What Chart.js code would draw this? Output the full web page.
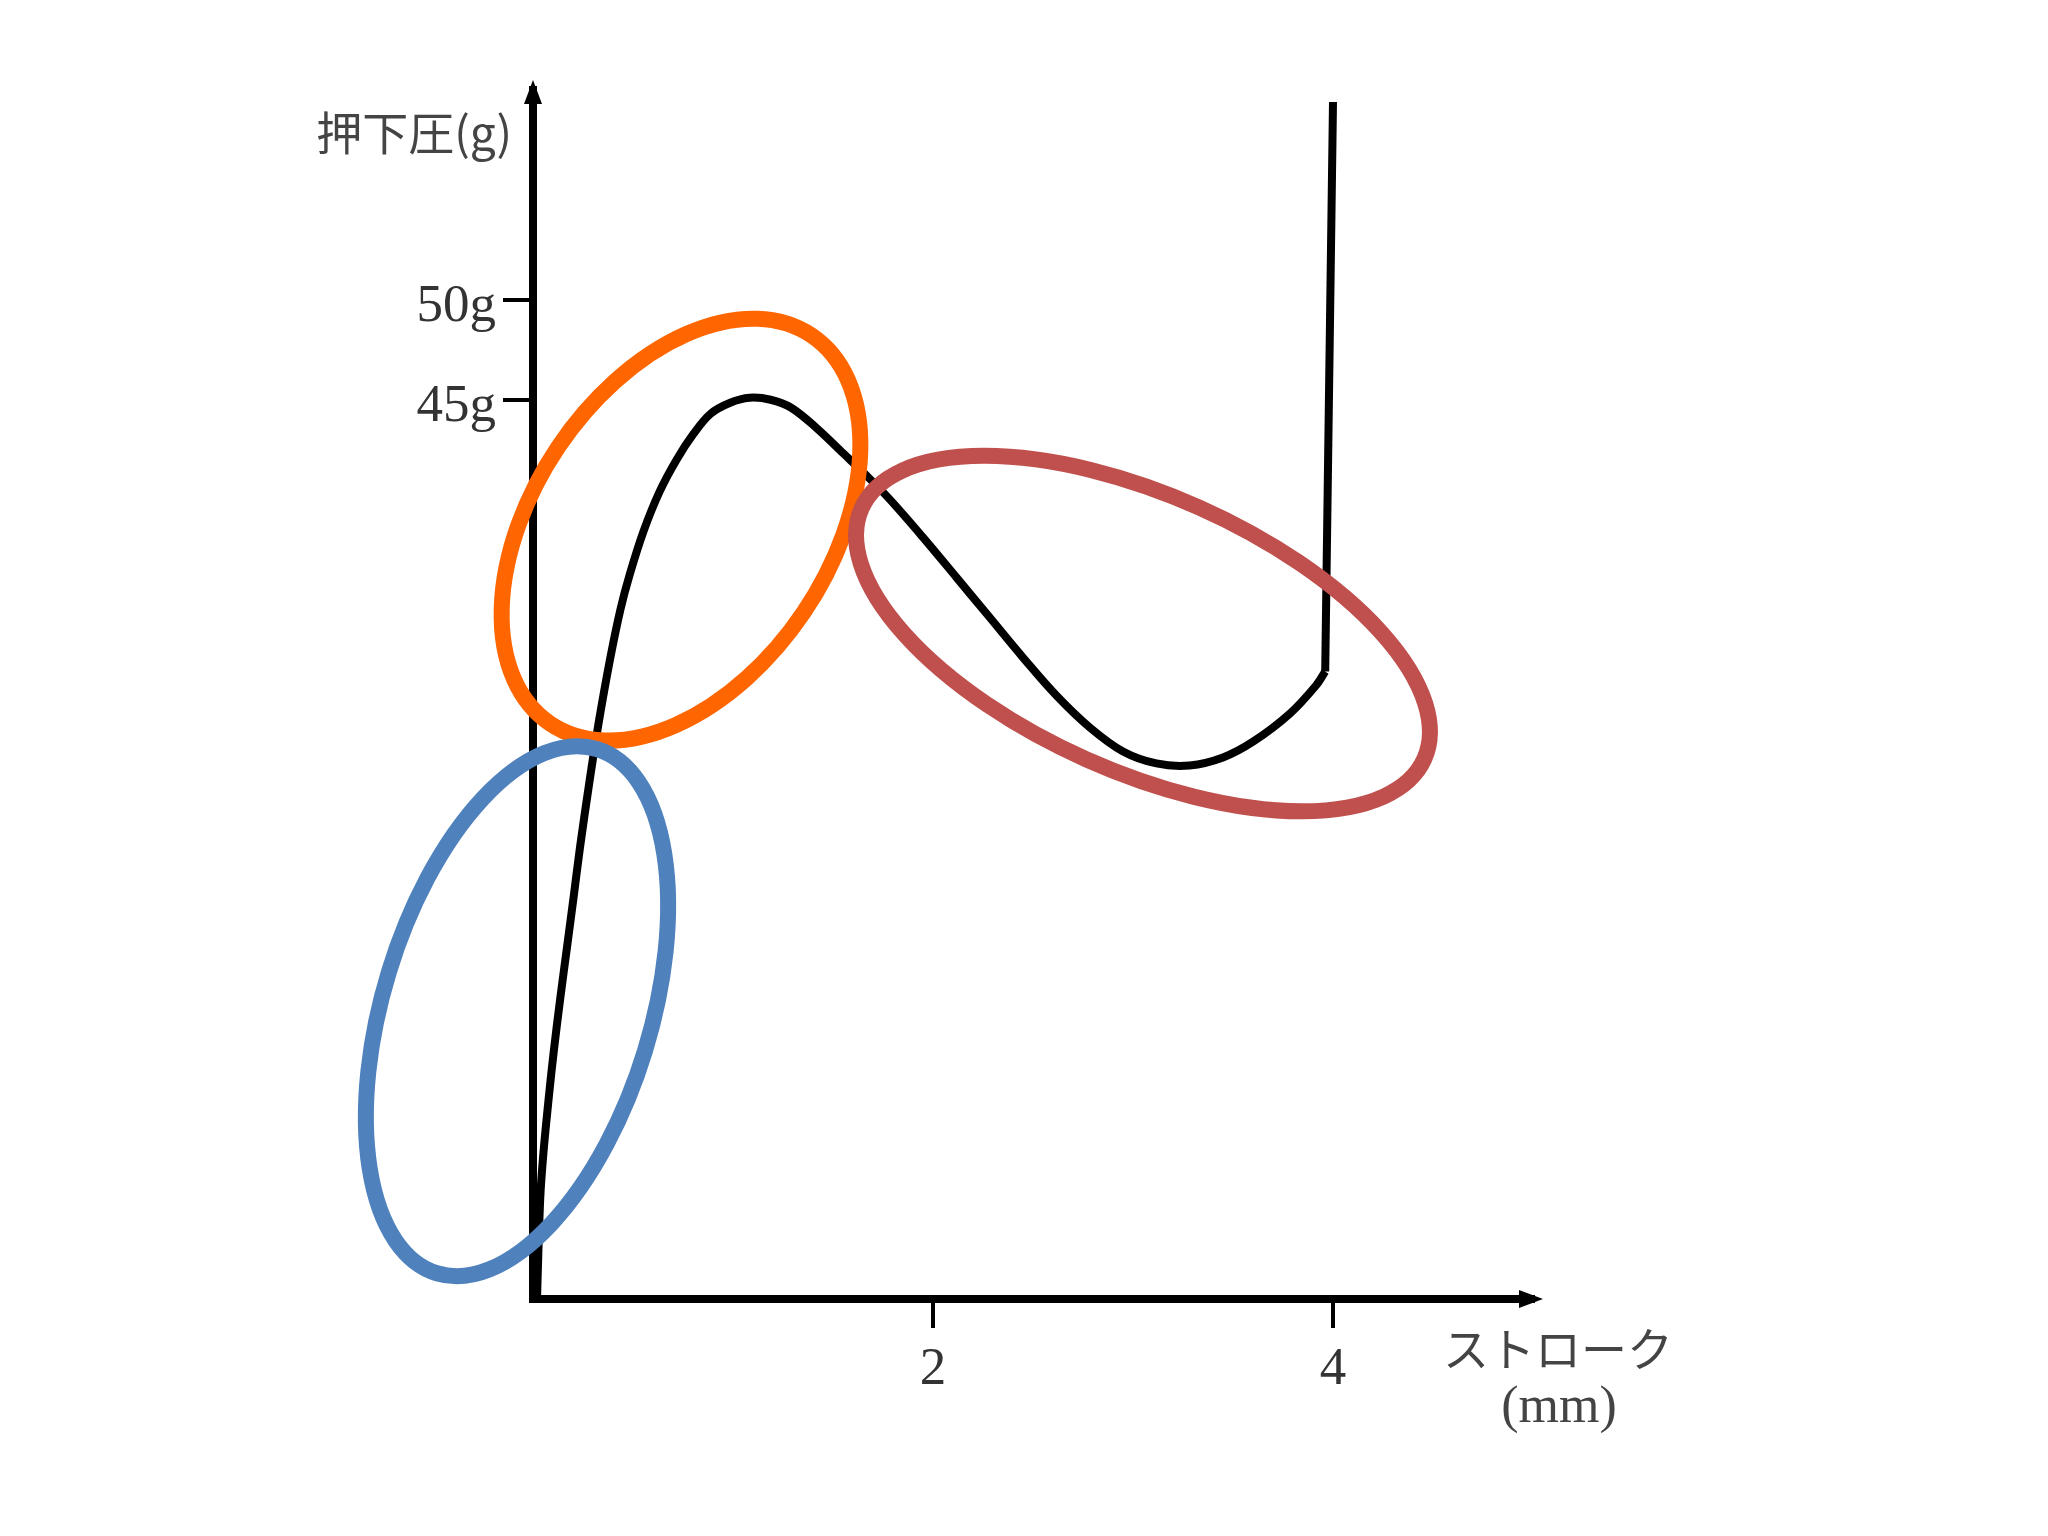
<!DOCTYPE html>
<html>
<head>
<meta charset="utf-8">
<script src="https://cdn.jsdelivr.net/npm/chart.js@4"></script>
<style>
  body { margin: 0; background: #fff; }
  #wrap { width: 2048px; height: 1536px; }
</style>
</head>
<body>
<div id="wrap"><canvas id="strokeChart" width="2048" height="1536"></canvas></div>
<script>
// stroke (mm) vs. key press force (g)
const strokeMm = [0.020, 0.036, 0.052, 0.078, 0.105, 0.137, 0.170, 0.203, 0.235, 0.281, 0.326, 0.385, 0.437,
    0.482, 0.552, 0.633, 0.718, 0.803, 0.888, 0.986, 1.083, 1.188,
    1.291, 1.416, 1.553, 1.668, 1.785, 1.951, 2.118, 2.284, 2.450, 2.617, 2.784, 2.950, 3.117, 3.283,
    3.450, 3.602, 3.785, 3.915, 3.961];
const pressureG = [0.0, 5.0, 7.3, 10.0, 12.5, 15.1, 17.6, 20.1, 22.6, 25.8, 28.7, 32.0, 34.5,
    36.2, 38.4, 40.4, 42.0, 43.3, 44.3, 44.85, 45.1, 45.0,
    44.6, 43.6, 42.3, 41.2, 40.0, 38.1, 36.1, 34.1, 32.1, 30.2, 28.6, 27.4, 26.8, 26.7,
    27.1, 27.9, 29.3, 30.7, 31.4];
// bottoming out: straight rise at the end of travel
const bottomMm = [3.961, 4.00];
const bottomG = [31.4, 59.9];
const xTicks = [2, 4];
const yTicks = [45, 50];

// highlight rings: centre in data units, radii / rotation in px
const rings = [
    {x: 0.74, y: 38.5, rx: 234, ry: 148, rot: -56, color: '#FF6600'},
    {x: -0.08, y: 14.4, rx: 274, ry: 134, rot: -73, color: '#4F81BD'},
    {x: 3.05, y: 33.3, rx: 308, ry: 138, rot: 24, color: '#C0504D'}
];

const extras = {
    id: 'extras',
    afterDraw(chart) {
        const {ctx, chartArea: a, scales} = chart;
        ctx.save();
        // arrow heads
        ctx.fillStyle = '#000';
        ctx.beginPath();
        ctx.moveTo(a.left, a.top - 10);
        ctx.lineTo(a.left - 9, a.top + 14);
        ctx.lineTo(a.left + 9, a.top + 14);
        ctx.fill();
        ctx.beginPath();
        ctx.moveTo(a.right + 10, a.bottom);
        ctx.lineTo(a.right - 14, a.bottom - 9);
        ctx.lineTo(a.right - 14, a.bottom + 9);
        ctx.fill();

        // axis titles
        ctx.fillStyle = '#444';
        ctx.textBaseline = 'middle';
        ctx.textAlign = 'right';
        ctx.font = '46px "Noto Sans CJK JP"';
        ctx.fillText('押下圧(g)', a.left - 21, a.top + 43);
        ctx.textAlign = 'center';
        ctx.fillText('ストローク', a.right + 25, a.bottom + 50);
        ctx.font = '52px "Liberation Serif"';
        ctx.fillText('(mm)', a.right + 26, a.bottom + 109);

        // rings
        rings.forEach(r => {
            ctx.beginPath();
            ctx.ellipse(scales.x.getPixelForValue(r.x), scales.y.getPixelForValue(r.y),
                r.rx, r.ry, r.rot * Math.PI / 180, 0, Math.PI * 2);
            ctx.strokeStyle = r.color;
            ctx.lineWidth = 16;
            ctx.stroke();
        });
        ctx.restore();
    }
};

const tickFont = {family: 'Liberation Serif', size: 53};

new Chart(document.getElementById('strokeChart'), {
    type: 'scatter',
    data: {
        datasets: [{
            data: strokeMm.map((v, i) => ({x: v, y: pressureG[i]})),
            showLine: true,
            borderColor: '#000',
            borderWidth: 8,
            pointRadius: 0,
            tension: 0.35,
            clip: false
        }, {
            data: bottomMm.map((v, i) => ({x: v, y: bottomG[i]})),
            showLine: true,
            borderColor: '#000',
            borderWidth: 8,
            pointRadius: 0,
            tension: 0,
            clip: false
        }]
    },
    options: {
        responsive: false,
        animation: false,
        layout: {padding: {top: 90, right: 515, bottom: 0, left: 0}},
        plugins: {legend: {display: false}, tooltip: {enabled: false}},
        scales: {
            x: {
                type: 'linear',
                min: 0,
                max: 5.0,
                afterBuildTicks: s => { s.ticks = xTicks.map(v => ({value: v})); },
                afterFit: s => { s.height = 237; },
                border: {display: true, color: '#000', width: 8},
                grid: {drawOnChartArea: false, drawTicks: true, tickLength: 29, color: '#000', lineWidth: 4},
                ticks: {font: tickFont, color: '#333', padding: 10, callback: v => String(v)}
            },
            y: {
                type: 'linear',
                min: 0,
                max: 60.5,
                afterBuildTicks: s => { s.ticks = yTicks.map(v => ({value: v})); },
                afterFit: s => { s.width = 533; },
                border: {display: true, color: '#000', width: 8},
                grid: {drawOnChartArea: false, drawTicks: true, tickLength: 30, color: '#000', lineWidth: 4},
                ticks: {font: tickFont, color: '#333', padding: 7, labelOffset: 7, callback: v => v + 'g'}
            }
        }
    },
    plugins: [extras]
});
</script>
</body>
</html>
